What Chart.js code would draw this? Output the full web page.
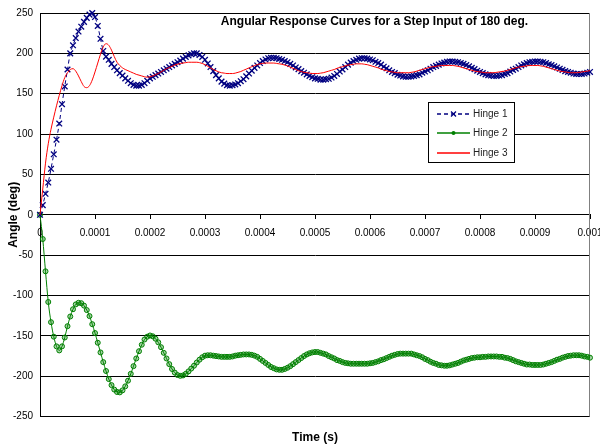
<!DOCTYPE html>
<html>
<head>
<meta charset="utf-8">
<title>Angular Response Curves</title>
<script src="https://cdn.jsdelivr.net/npm/chart.js@4.4.1/dist/chart.umd.min.js"></script>
<style>
  body { margin: 0; background: #fff; }
  #wrap { width: 600px; height: 447px; }
</style>
</head>
<body>
<div id="wrap"><canvas id="angleChart" width="600" height="447"></canvas></div>
<script>
// time grid (s), one sample every 5 microseconds, 0 .. 0.00101
var times = [];
for (var i = 0; i <= 202; i++) times.push(i * 5e-6);

var xTickValues = [0, 0.0001, 0.0002, 0.0003, 0.0004, 0.0005, 0.0006, 0.0007, 0.0008, 0.0009, 0.001];
var xTickLabels = ['0', '0.0001', '0.0002', '0.0003', '0.0004', '0.0005', '0.0006', '0.0007', '0.0008', '0.0009', '0.001'];
var yTickValues = [-250, -200, -150, -100, -50, 0, 50, 100, 150, 200, 250];
var yTickLabels = ['-250', '-200', '-150', '-100', '-50', '0', '50', '100', '150', '200', '250'];

var seriesNames = ['Hinge 1', 'Hinge 2', 'Hinge 3'];

// angle (deg), one row = 50 microseconds
var hinge1 = [
  0, 12, 26, 40, 57, 75, 93, 113, 137, 159,
  180, 200, 210, 219, 227, 233, 239, 244, 248, 250,
  245, 234, 218, 203, 196, 192, 187, 183, 179, 175.5,
  172.5, 169, 166, 163, 161, 160, 160, 161, 163, 166,
  169, 171, 173, 175, 177, 179, 181, 183, 185, 187,
  189, 191, 193.5, 195.5, 197.5, 199, 200, 200, 198, 195.5,
  192, 187.5, 183, 178, 173, 169, 165, 162.5, 160.5, 160,
  160.5, 161.5, 163, 165.5, 168, 171.5, 175, 178.5, 182, 185,
  188, 190.5, 192.5, 194, 194.5, 194.5, 194, 193, 192, 190.5,
  189, 187, 185, 182.5, 180.5, 178, 176, 174, 172, 170.5,
  169, 168.5, 167.5, 167.5, 168, 168.5, 170, 172, 174.5, 177.5,
  180, 183, 186, 188.5, 190.5, 192, 193.5, 194, 194, 193.5,
  192.5, 191.5, 189.5, 188, 186, 183.5, 181.5, 179, 177, 175.5,
  173.5, 172.5, 171.5, 171, 171, 171.5, 172, 173, 174, 176,
  177.5, 179, 181, 183, 184.5, 186, 187.5, 188.5, 189.5, 190,
  190, 189.5, 189, 188, 187, 185.5, 184, 182, 180.5, 178.5,
  177, 175.5, 174, 173, 172.5, 172, 172, 172.5, 173, 174.5,
  175.5, 177.5, 179.5, 181, 183, 185, 186.5, 188, 189, 189.5,
  190, 190, 189.5, 189, 188, 186.5, 185.5, 184, 182.5, 181,
  179.5, 178, 177, 176, 175, 174.5, 174.5, 174.5, 175, 176,
  177
];

var hinge2 = [
  0, -30, -70, -108, -133, -151, -163, -168, -163, -152,
  -138, -126, -117, -111, -109, -109.5, -112.5, -118, -125.5, -135.5,
  -146.5, -158.5, -170.5, -182.5, -193.5, -203.5, -211, -216.5, -219.5, -220,
  -217.5, -212.5, -205.5, -197, -187.5, -178, -169, -161, -154.5, -151,
  -149.5, -150.5, -153.5, -158, -164, -171, -178, -185, -191, -195.5,
  -198.5, -199.5, -199, -197, -194, -190.5, -187, -183, -179.5, -176.5,
  -174.5, -174, -174, -174.5, -175, -175.5, -176, -176, -176, -176,
  -175.5, -174.5, -174, -173.5, -173, -173, -173, -173.5, -174.5, -176,
  -178.5, -181, -183.5, -186, -188.5, -190, -191.5, -192, -192, -191,
  -189.5, -187.5, -185, -182.5, -180, -177.5, -175, -173, -171.5, -170.5,
  -170, -170, -171, -172, -173, -175, -176.5, -178, -180, -181,
  -182.5, -183.5, -184, -184.5, -184.5, -184.5, -184.5, -184.5, -184.5, -184.5,
  -184, -183.5, -182.5, -181.5, -180, -179, -177.5, -176, -174.5, -173.5,
  -172.5, -172, -172, -172, -172, -172, -173, -174, -175, -176.5,
  -178.5, -180, -182, -183.5, -184.5, -186, -186.5, -187, -187, -186.5,
  -185.5, -184.5, -183.5, -182, -180.5, -179.5, -178.5, -177.5, -177, -176.5,
  -176.5, -176, -176, -175.5, -175.5, -175.5, -175.5, -176, -176, -177,
  -177.5, -178.5, -180, -181.5, -182.5, -183.5, -184.5, -185.5, -185.5, -186,
  -186, -186, -186, -185.5, -184.5, -183.5, -182.5, -181, -179.5, -178.5,
  -177, -176, -175, -174.5, -174, -174, -174, -174.5, -175.5, -176,
  -177, -178.5, -179.5
];

var hinge3 = [
  0, 32, 64, 88, 106, 121, 135, 148, 160, 170,
  176, 180, 181, 178, 172, 165, 159, 157.5, 160, 167,
  177, 188, 199, 208, 212, 210, 204, 196, 189, 185,
  182, 180, 178.5, 177, 175.5, 174, 173, 172, 171, 170.5,
  171, 172, 173.5, 175, 177, 179, 181, 182.5, 184, 185.5,
  186.5, 187.5, 188, 188.5, 189, 189, 189, 189, 188.5, 187.5,
  186, 184, 182, 180, 178.5, 177, 176, 175.5, 175, 175,
  175, 175.5, 176.5, 177.5, 179, 180.5, 182, 183.5, 185, 186,
  187, 187.5, 188, 188, 188, 188, 187.5, 187, 186.5, 185.5,
  184.5, 183, 181.5, 180, 178.5, 177.5, 176.5, 176, 175.5, 175,
  175, 175, 175.5, 176, 177, 178, 179, 180, 181.5, 182.5,
  183.5, 184.5, 185.5, 186, 186.5, 187, 187, 187, 186.5, 186,
  185, 184, 183, 182, 180.5, 179.5, 178.5, 177.5, 177, 176.5,
  176, 176, 176, 176, 176, 176.5, 177, 178, 179, 180,
  181, 182, 183, 183.5, 184, 184.5, 185, 185, 185, 185,
  185, 184.5, 184, 183, 182, 181, 180, 179, 178, 177.5,
  177, 176.5, 176, 176, 176, 176, 176.5, 177, 177.5, 178,
  179, 180, 181, 182, 183, 183.5, 184, 184.5, 185, 185,
  185, 185, 184.5, 184, 183, 182, 181, 180, 179, 178,
  177.5, 177, 176.5, 176, 176, 176, 176.5, 177, 177.5, 178,
  178.5, 179, 180
];

var seriesColors = ['#000080', '#008000', '#ff0000'];

function toPoints(values) {
  return values.map(function (v, i) { return { x: times[i], y: v }; });
}

var FONT = "'Liberation Sans', Arial, sans-serif";
Chart.defaults.font.family = FONT;
Chart.defaults.color = '#000';

// chart title, right border of the plot and the boxed legend inside the plot
var chartDecor = {
  id: 'chartDecor',
  beforeDatasetsDraw: function (chart) {
    var ctx = chart.ctx, area = chart.chartArea;
    ctx.save();
    ctx.strokeStyle = '#808080';
    ctx.lineWidth = 1;
    ctx.beginPath();
    ctx.moveTo(Math.round(area.right) - 0.5, area.top);
    ctx.lineTo(Math.round(area.right) - 0.5, area.bottom);
    ctx.stroke();
    ctx.restore();
  },
  afterDraw: function (chart) {
    var ctx = chart.ctx;
    ctx.save();
    ctx.font = 'bold 12px ' + FONT;
    ctx.fillStyle = '#000';
    ctx.textAlign = 'center';
    ctx.textBaseline = 'middle';
    ctx.fillText('Angular Response Curves for a Step Input of 180 deg.', 374.5, 21.5);

    // legend
    var lx = 428.5, ly = 102.5, lw = 86, lh = 60;
    ctx.fillStyle = '#fff';
    ctx.fillRect(lx, ly, lw, lh);
    ctx.strokeStyle = '#000';
    ctx.lineWidth = 1;
    ctx.strokeRect(lx, ly, lw, lh);
    ctx.font = '10px ' + FONT;
    ctx.textAlign = 'left';
    seriesNames.forEach(function (name, i) {
      var y = Math.round(114 + i * 19.3);
      var col = seriesColors[i];
      ctx.lineWidth = 1.3;
      ctx.strokeStyle = col;
      ctx.setLineDash(i === 0 ? [4, 3] : []);
      ctx.beginPath();
      ctx.moveTo(437, y);
      ctx.lineTo(470, y);
      ctx.stroke();
      ctx.setLineDash([]);
      var mx = 453.5;
      if (i === 0) {
        ctx.beginPath();
        ctx.moveTo(mx - 2.5, y - 2.5); ctx.lineTo(mx + 2.5, y + 2.5);
        ctx.moveTo(mx + 2.5, y - 2.5); ctx.lineTo(mx - 2.5, y + 2.5);
        ctx.stroke();
      } else if (i === 1) {
        ctx.fillStyle = col;
        ctx.beginPath();
        ctx.arc(mx, y, 2, 0, Math.PI * 2);
        ctx.fill();
      }
      ctx.fillStyle = '#222';
      ctx.fillText(name, 473, y);
    });
    ctx.restore();
  }
};

var ctx = document.getElementById('angleChart').getContext('2d');
var angleChart = new Chart(ctx, {
  type: 'line',
  data: {
    datasets: [{
      label: seriesNames[0],
      data: toPoints(hinge1),
      borderColor: seriesColors[0],
      borderWidth: 1,
      borderDash: [4, 3],
      pointStyle: 'crossRot',
      pointRadius: 4,
      pointBorderColor: seriesColors[0],
      pointBackgroundColor: seriesColors[0],
      pointBorderWidth: 1.3,
      order: 1,
      clip: false
    }, {
      label: seriesNames[1],
      data: toPoints(hinge2),
      borderColor: seriesColors[1],
      borderWidth: 1,
      pointStyle: 'circle',
      pointRadius: 2.5,
      pointBorderColor: seriesColors[1],
      pointBackgroundColor: 'rgba(0,128,0,0.35)',
      pointBorderWidth: 1,
      order: 2,
      clip: false
    }, {
      label: seriesNames[2],
      data: toPoints(hinge3),
      borderColor: seriesColors[2],
      borderWidth: 1,
      pointRadius: 0,
      order: 0,
      clip: false
    }]
  },
  options: {
    responsive: false,
    animation: false,
    cubicInterpolationMode: 'monotone',
    layout: { padding: { left: 0, right: 10, top: 13, bottom: 0 } },
    scales: {
      x: {
        type: 'linear',
        position: { y: 0 },
        min: 0,
        max: 0.001,
        afterBuildTicks: function (scale) {
          scale.ticks = xTickValues.map(function (v) { return { value: v }; });
        },
        afterFit: function (scale) {
          scale.paddingLeft = 0;
          scale.paddingRight = 0;
        },
        grid: { drawOnChartArea: false, drawTicks: true, tickLength: 4, color: '#000' },
        border: { color: '#000', width: 1 },
        ticks: {
          autoSkip: false,
          maxRotation: 0,
          padding: 8,
          font: { size: 10 },
          color: '#000',
          callback: function (v, i) { return xTickLabels[i]; }
        }
      },
      y: {
        type: 'linear',
        min: -250,
        max: 250,
        afterBuildTicks: function (scale) {
          scale.ticks = yTickValues.map(function (v) { return { value: v }; });
        },
        afterFit: function (scale) { scale.width = 40; },
        grid: { color: '#000', drawTicks: false },
        border: { color: '#000', width: 1 },
        ticks: {
          padding: 7,
          font: { size: 10 },
          color: '#000',
          callback: function (v, i) { return yTickLabels[i]; }
        },
        title: {
          display: true,
          text: 'Angle (deg)',
          font: { size: 12, weight: 'bold' },
          color: '#000',
          padding: { top: 6, bottom: 0 }
        }
      }
    },
    plugins: {
      legend: { display: false },
      tooltip: { enabled: false },
      title: {
        display: true,
        position: 'bottom',
        fullSize: false,
        text: 'Time (s)',
        color: '#000',
        font: { size: 12, weight: 'bold' },
        padding: { top: 14, bottom: 2 }
      }
    }
  },
  plugins: [chartDecor]
});
</script>
</body>
</html>
